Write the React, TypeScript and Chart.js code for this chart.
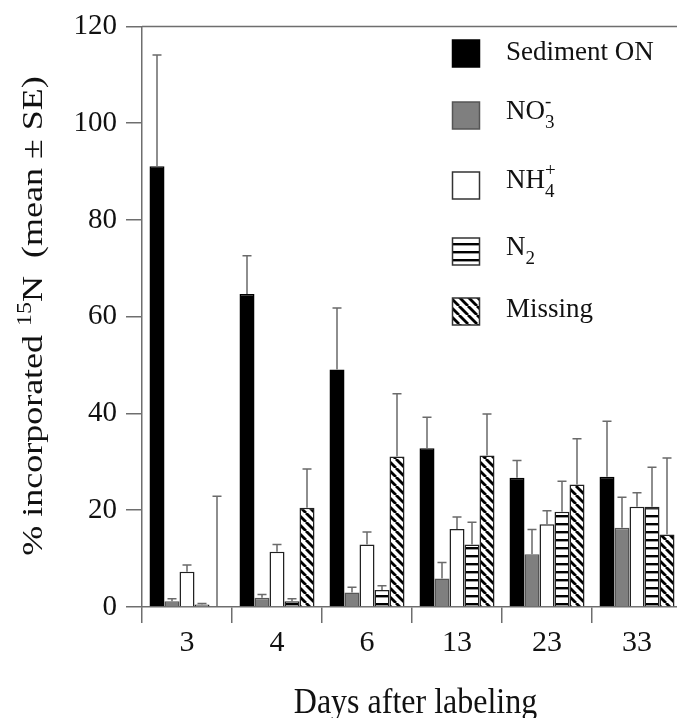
import React, { useEffect, useRef } from 'react';
import { Chart, registerables } from 'chart.js';
Chart.register(...registerables);

const categories = ['3', '4', '6', '13', '23', '33'];
const sedimentON = [91.1, 64.7, 49.1, 32.8, 26.7, 26.9];
const sedimentON_SE = [23.0, 7.9, 12.7, 6.4, 3.6, 11.5];
const nitrate = [1.2, 1.9, 3.0, 5.9, 10.9, 16.4];
const nitrate_SE = [0.5, 0.7, 1.1, 3.3, 5.1, 6.3];
const ammonium = [7.3, 11.4, 12.9, 16.1, 17.1, 20.7];
const ammonium_SE = [1.4, 1.5, 2.6, 2.5, 2.8, 2.9];
const dinitrogen = [0.5, 1.2, 3.5, 12.9, 19.7, 20.7];
const dinitrogen_SE = [0.2, 0.5, 0.9, 4.6, 6.3, 8.2];
const missing = [0, 20.5, 31.1, 31.3, 25.3, 15.0];
const missing_SE = [22.9, 8.0, 13.0, 8.6, 9.5, 15.8];

const yTickValues = [0, 20, 40, 60, 80, 100, 120];
const xTitle = 'Days after labeling';

type Seg = { t: string; k?: 'sub' | 'sup' };
const legendLabels: Seg[][] = [
  [{ t: 'Sediment ON' }],
  [{ t: 'NO' }, { t: '3', k: 'sub' }, { t: '-', k: 'sup' }],
  [{ t: 'NH' }, { t: '4', k: 'sub' }, { t: '+', k: 'sup' }],
  [{ t: 'N' }, { t: '2', k: 'sub' }],
  [{ t: 'Missing' }],
];
const yTitleSegs: Seg[] = [
  { t: '% incorporated ' },
  { t: '15', k: 'sup' },
  { t: 'N  (mean \u00b1 SE)' },
];

const FAMILY = "'Liberation Serif', 'Times New Roman', serif";
const AXIS_COLOR = '#6e6e6e';

function makeHStripes(): CanvasPattern | string {
  const c = document.createElement('canvas');
  c.width = 8;
  c.height = 8;
  const g = c.getContext('2d');
  if (!g) return '#fff';
  g.fillStyle = '#fff';
  g.fillRect(0, 0, 8, 8);
  g.fillStyle = '#000';
  g.fillRect(0, 3, 8, 2.4);
  return g.createPattern(c, 'repeat') || '#fff';
}

function makeDiag(): CanvasPattern | string {
  const s = 9;
  const c = document.createElement('canvas');
  c.width = s;
  c.height = s;
  const g = c.getContext('2d');
  if (!g) return '#fff';
  g.fillStyle = '#fff';
  g.fillRect(0, 0, s, s);
  g.strokeStyle = '#000';
  g.lineWidth = 2.8;
  for (const o of [-s, 0, s]) {
    g.beginPath();
    g.moveTo(o, 0);
    g.lineTo(o + s, s);
    g.stroke();
  }
  return g.createPattern(c, 'repeat') || '#fff';
}

function segWidth(ctx: CanvasRenderingContext2D, segs: Seg[], size: number, small: number) {
  let w = 0;
  let lastSubW = 0;
  segs.forEach((s, i) => {
    ctx.font = `${s.k ? small : size}px ${FAMILY}`;
    const mw = ctx.measureText(s.t).width;
    if (s.k === 'sup' && i > 0 && segs[i - 1].k === 'sub') {
      w = w - lastSubW + Math.max(lastSubW, mw);
    } else {
      w += mw;
    }
    lastSubW = s.k === 'sub' ? mw : 0;
  });
  return w;
}

function drawSegs(ctx: CanvasRenderingContext2D, segs: Seg[], x: number, y: number, size: number, small: number, subOff: number, supOff: number) {
  let cx = x;
  let lastSubStart = x;
  segs.forEach((s, i) => {
    ctx.font = `${s.k ? small : size}px ${FAMILY}`;
    const mw = ctx.measureText(s.t).width;
    let dx = cx;
    if (s.k === 'sup' && i > 0 && segs[i - 1].k === 'sub') dx = lastSubStart;
    const dy = s.k === 'sub' ? y + subOff : s.k === 'sup' ? y - supOff : y;
    ctx.fillText(s.t, dx, dy);
    if (s.k === 'sub') lastSubStart = cx;
    cx = Math.max(cx, dx + mw);
  });
}

export default function App() {
  const ref = useRef<HTMLCanvasElement | null>(null);

  useEffect(() => {
    document.body.style.margin = '0';
    const canvas = ref.current;
    if (!canvas) return;
    const hPat = makeHStripes();
    const dPat = makeDiag();

    const series = [
      { label: 'Sediment ON', data: sedimentON, se: sedimentON_SE, bg: '#000000', border: '#000000' },
      { label: 'NO3-', data: nitrate, se: nitrate_SE, bg: '#7f7f7f', border: '#555555' },
      { label: 'NH4+', data: ammonium, se: ammonium_SE, bg: '#ffffff', border: '#222222' },
      { label: 'N2', data: dinitrogen, se: dinitrogen_SE, bg: hPat, border: '#222222' },
      { label: 'Missing', data: missing, se: missing_SE, bg: dPat, border: '#222222' },
    ];

    const errorBars = {
      id: 'errorBars',
      afterDatasetsDraw(chart: any) {
        const ctx = chart.ctx as CanvasRenderingContext2D;
        const ys = chart.scales.y;
        ctx.save();
        ctx.strokeStyle = '#6a6a6a';
        ctx.lineWidth = 1.5;
        series.forEach((s, di) => {
          const meta = chart.getDatasetMeta(di);
          meta.data.forEach((bar: any, i: number) => {
            const v = s.data[i];
            const e = s.se[i];
            const y0 = ys.getPixelForValue(v);
            const y1 = ys.getPixelForValue(v + e);
            const x = bar.x;
            ctx.beginPath();
            ctx.moveTo(x, y0);
            ctx.lineTo(x, y1);
            ctx.moveTo(x - 4.5, y1);
            ctx.lineTo(x + 4.5, y1);
            ctx.stroke();
          });
        });
        ctx.restore();
      },
    };

    const decorations = {
      id: 'decorations',
      afterDraw(chart: any) {
        const ctx = chart.ctx as CanvasRenderingContext2D;
        const a = chart.chartArea;
        ctx.save();
        // top line
        ctx.strokeStyle = AXIS_COLOR;
        ctx.lineWidth = 1.5;
        ctx.beginPath();
        ctx.moveTo(a.left, a.top);
        ctx.lineTo(chart.width, a.top);
        ctx.stroke();

        // legend
        const squaresTop = [40, 102, 172, 238, 298];
        const baselines = [60, 119, 188, 255, 317];
        ctx.fillStyle = '#111';
        ctx.textBaseline = 'alphabetic';
        ctx.textAlign = 'left';
        series.forEach((s, i) => {
          const x = 452.5;
          const y = squaresTop[i];
          ctx.fillStyle = s.bg as any;
          ctx.fillRect(x, y, 27, 27);
          ctx.strokeStyle = i === 0 ? '#000' : i === 1 ? '#555' : '#333';
          ctx.lineWidth = 1.5;
          ctx.strokeRect(x, y, 27, 27);
          ctx.fillStyle = '#111';
          drawSegs(ctx, legendLabels[i], 506, baselines[i], 27, 19, 9, 12);
        });

        // x title (slightly taller glyphs, as in the reference)
        ctx.save();
        ctx.translate((a.left + 677) / 2 + 6, 713);
        ctx.scale(1, 1.1);
        ctx.font = `32px ${FAMILY}`;
        ctx.textAlign = 'center';
        ctx.fillStyle = '#111';
        ctx.fillText(xTitle, 0, 0);
        ctx.restore();

        // y title (elongated along its direction, as in the reference)
        ctx.save();
        ctx.translate(42, 316);
        ctx.rotate(-Math.PI / 2);
        ctx.scale(1.2, 1);
        ctx.textAlign = 'left';
        ctx.fillStyle = '#111';
        const w = segWidth(ctx, yTitleSegs, 30, 20);
        drawSegs(ctx, yTitleSegs, -w / 2, 0, 30, 20, 8, 11);
        ctx.restore();

        ctx.restore();
      },
    };

    const chart = new Chart(canvas, {
      type: 'bar',
      data: {
        labels: categories,
        datasets: series.map((s) => ({
          label: s.label,
          data: s.data,
          backgroundColor: s.bg as any,
          borderColor: s.border,
          borderWidth: 1.5,
          categoryPercentage: 75 / 90,
          barPercentage: 1,
        })),
      },
      options: {
        responsive: false,
        animation: false,
        events: [],
        layout: { padding: { left: 0, top: 25, right: 8, bottom: 0 } },
        plugins: { legend: { display: false }, tooltip: { enabled: false }, title: { display: false } },
        scales: {
          x: {
            offset: true,
            grid: { offset: true, drawOnChartArea: false, drawTicks: true, tickLength: 16, color: AXIS_COLOR, lineWidth: 1.5 },
            border: { display: true, color: AXIS_COLOR, width: 1.5 },
            ticks: { font: { family: FAMILY, size: 30 }, color: '#111', padding: 2, maxRotation: 0, autoSkip: false },
            afterFit: (s: any) => { s.height = 111; },
          },
          y: {
            min: 0,
            max: 120,
            afterBuildTicks: (s: any) => { s.ticks = yTickValues.map((v) => ({ value: v })); },
            ticks: { font: { family: FAMILY, size: 29 }, color: '#111', padding: 9 },
            grid: { drawOnChartArea: false, drawTicks: true, tickLength: 16, color: AXIS_COLOR, lineWidth: 1.5 },
            border: { display: true, color: AXIS_COLOR, width: 1.5 },
            afterFit: (s: any) => { s.width = 142; },
          },
        },
      },
      plugins: [errorBars, decorations],
    });
    return () => chart.destroy();
  }, []);

  return (
    <div style={{ position: 'relative', width: 677, height: 718, overflow: 'hidden', background: '#fff' }}>
      <canvas ref={ref} width={690} height={718} style={{ display: 'block', width: 690, height: 718 }} />
    </div>
  );
}
